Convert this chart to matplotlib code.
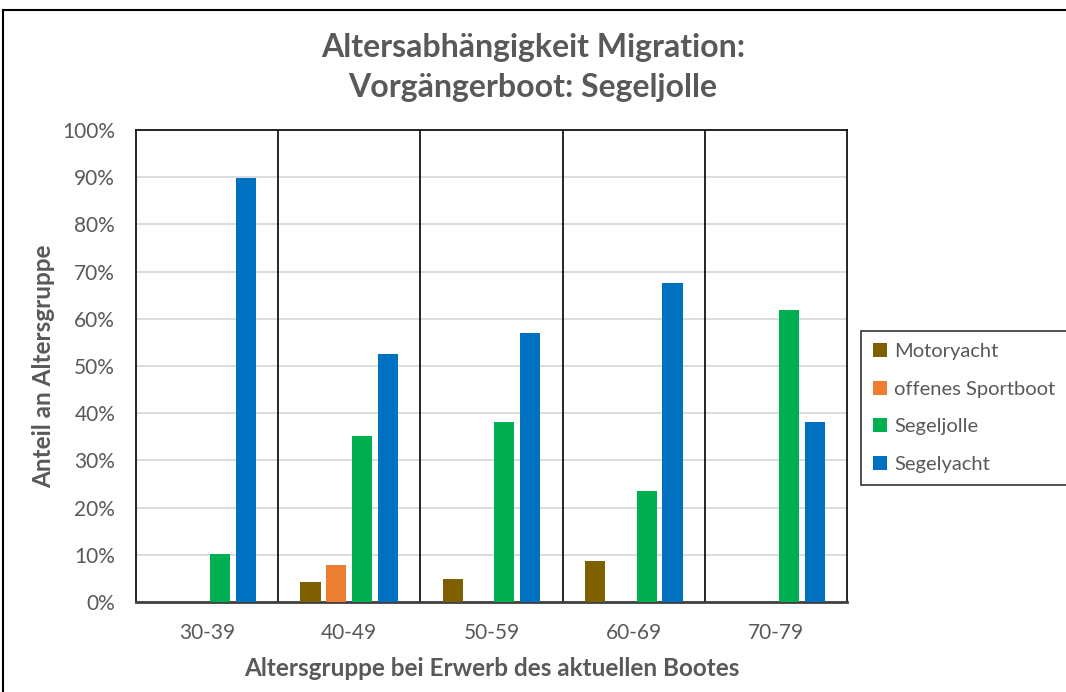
"""Altersabhängigkeit der Migration, Vorgängerboot Segeljolle.

Gruppiertes Säulendiagramm: Anteil des aktuellen Bootstyps je Altersgruppe.
"""

import numpy as np
import matplotlib
matplotlib.use("Agg")
import matplotlib.pyplot as plt
from matplotlib.lines import Line2D


# ── Daten (Anteile in %) ───────────────────────────────────
altersgruppen = ["30-39", "40-49", "50-59", "60-69", "70-79"]
bootstypen = ["Motoryacht", "offenes Sportboot", "Segeljolle", "Segelyacht"]

motoryacht = [0.0, 4.2, 4.9, 8.7, 0.0]
offenes_sportboot = [0.0, 7.9, 0.0, 0.0, 0.0]
segeljolle = [10.2, 35.1, 38.2, 23.5, 61.9]
segelyacht = [89.8, 52.6, 56.9, 67.6, 38.1]

farben = ["#7F6000", "#ED7D31", "#00B050", "#0070C0"]

TEXT_GRAU = "#595959"
FONT = ["Lato", "DejaVu Sans"]

plt.rcParams["font.family"] = FONT


def main():
    fig = plt.figure(figsize=(10.66, 6.92), dpi=100)
    W, H = 1066, 692

    # Plotfläche in Pixeln: links 136, rechts 847, oben 130, unten 602
    ax = fig.add_axes([136 / W, 1 - 602 / H, (847 - 136) / W, (602 - 130) / H])

    serien = [motoryacht, offenes_sportboot, segeljolle, segelyacht]
    x = np.arange(len(altersgruppen))
    schritt = 0.182
    breite = 0.141
    for i, (werte, farbe, name) in enumerate(zip(serien, farben, bootstypen)):
        versatz = (i - 1.5) * schritt
        ax.bar(x + versatz, np.array(werte) / 100, width=breite, color=farbe,
               label=name, zorder=3)

    ax.set_xlim(-0.5, len(altersgruppen) - 0.5)
    ax.set_ylim(0, 1)
    ax.set_yticks(np.linspace(0, 1, 11))
    ax.set_yticklabels([f"{int(round(v * 100))}%" for v in np.linspace(0, 1, 11)])
    ax.set_xticks(x)
    ax.set_xticklabels(altersgruppen)
    ax.tick_params(axis="both", length=0, labelsize=15, colors=TEXT_GRAU)
    ax.tick_params(axis="y", pad=15)
    ax.tick_params(axis="x", pad=15)

    # Gitternetz und Trennlinien zwischen den Altersgruppen
    ax.grid(True, axis="y", color="#D9D9D9", lw=1.3, zorder=0)
    for grenze in x[:-1] + 0.5:
        ax.axvline(grenze, color="black", lw=1.2, zorder=2)
    for seite in ["left", "right", "top"]:
        ax.spines[seite].set_color("black")
        ax.spines[seite].set_linewidth(1.2)
    ax.spines["bottom"].set_color("#404040")
    ax.spines["bottom"].set_linewidth(2.0)

    ax.set_ylabel("Anteil an Altersgruppe", fontsize=17.5, fontweight="bold",
                  color=TEXT_GRAU, labelpad=5)
    ax.set_xlabel("Altersgruppe bei Erwerb des aktuellen Bootes", fontsize=17.5,
                  fontweight="bold", color=TEXT_GRAU, labelpad=10)

    fig.text(0.5, 1 - 47 / H, "Altersabhängigkeit Migration:", ha="center",
             va="center", fontsize=23, fontweight="bold", color=TEXT_GRAU)
    fig.text(0.5, 1 - 87 / H, "Vorgängerboot: Segeljolle", ha="center",
             va="center", fontsize=23, fontweight="bold", color=TEXT_GRAU)

    # Legende rechts, Rahmen läuft über den rechten Bildrand hinaus
    leg = fig.legend(loc="upper left",
                     bbox_to_anchor=(861 / W, 1 - 331 / H - 0.2, 0.2, 0.2),
                     mode="expand", fontsize=14.5, frameon=True,
                     fancybox=False, borderaxespad=0, handlelength=0.7,
                     handleheight=0.7, handletextpad=0.35, labelspacing=1.02,
                     borderpad=0.6, labelcolor=TEXT_GRAU)
    leg.get_frame().set_edgecolor("black")
    leg.get_frame().set_linewidth(1.2)

    # Rahmen um das ganze Diagramm (links und oben sichtbar)
    fig.add_artist(Line2D([3 / W, 3 / W], [0, 1 - 10 / H], color="black",
                          lw=1.5, transform=fig.transFigure))
    fig.add_artist(Line2D([3 / W, 1], [1 - 10 / H, 1 - 10 / H], color="black",
                          lw=1.5, transform=fig.transFigure))

    fig.savefig("out.png", dpi=100)


if __name__ == "__main__":
    main()
